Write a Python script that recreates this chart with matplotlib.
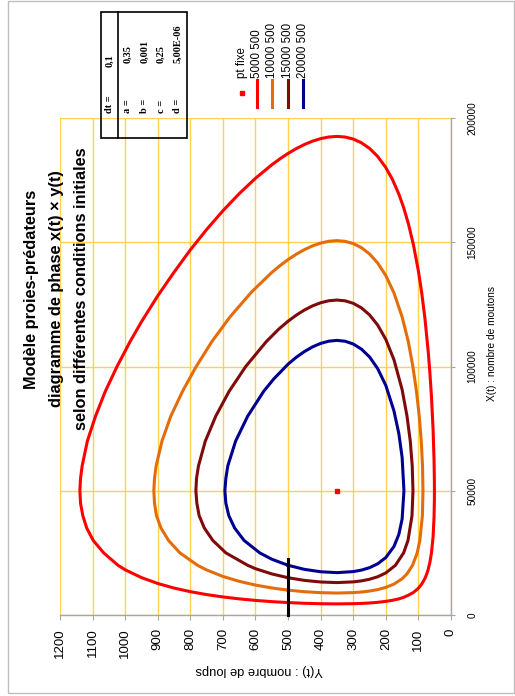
import matplotlib
matplotlib.use('Agg')
import matplotlib.pyplot as plt
from matplotlib.lines import Line2D
from matplotlib.patches import Rectangle

plt.rcParams['font.family'] = ['Liberation Sans', 'DejaVu Sans']

# X(t) = moutons (vertical axis here), Y(t) = loups (horizontal axis, reversed)
red_x = [5000, 5375, 5870, 6490, 7270, 8216, 9390, 10840, 12690, 15060, 18200, 20000, 25000, 30000, 35000,
         40000, 45000, 50000, 55000, 60000, 70000, 80000, 90000, 100000, 110000, 118000, 128450, 137950,
         146930, 155130, 162670, 169550, 175740, 181170, 183570, 185750, 187670, 189330, 190680, 191700,
         192360, 192590, 192340, 191520, 190040, 187770, 184520, 180030, 175350, 169370, 163820, 157070,
         148770, 138360, 129800, 119350, 106100, 97900, 87970, 74680, 62240, 53600, 50000, 46500, 39500,
         31480, 24970, 21050, 18330, 16310, 14710, 12420, 10775, 9110, 8020, 7137, 6490, 5920, 5485, 5100,
         4840, 4660, 4550, 4474, 4535, 4718, 5000]
red_y = [500, 550, 600, 650, 700, 750, 800, 850, 900, 950, 1000, 1022, 1066, 1098, 1118,
         1130, 1137, 1139, 1137, 1132, 1116, 1091, 1061, 1025, 985, 950, 900, 850,
         800, 750, 700, 650, 600, 550, 525, 500, 475, 450, 425, 400,
         375, 350, 325, 300, 275, 250, 225, 200, 180, 160, 145, 130,
         115, 100, 90, 80, 70, 65, 60, 55, 52, 51, 50.9, 51, 52,
         55, 60, 65, 70, 75, 80, 90, 100, 115, 130, 145, 160, 180, 200, 225,
         250, 275, 300, 350, 400, 450, 500]

orange_x = [10000, 10880, 12040, 13550, 15510, 18130, 20000, 25000, 30000, 35000, 40000, 45000, 50000, 55000,
            60000, 70000, 80000, 90000, 100000, 110000, 120000, 130000, 137850, 140570, 143020, 145180, 147020,
            148530, 149670, 150400, 150650, 150370, 149470, 147820, 145280, 141640, 136580, 129610, 119940,
            110000, 100000, 90000, 80000, 70000, 60000, 50000, 40000, 30000, 25000, 20000, 16560, 14580, 12440,
            11105, 10227, 9640, 9250, 9006, 8834, 8990, 9370, 10000]
orange_y = [500, 550, 600, 650, 700, 750, 778, 832, 867, 890, 904, 910, 912, 910,
            905, 887, 860, 824, 782, 734, 678, 612, 550, 525, 500, 475, 450,
            425, 400, 375, 350, 325, 300, 275, 250, 225, 200, 175, 150,
            131, 117, 106, 97.4, 91.3, 87.4, 86, 87.8, 95.6, 103.8, 118, 135, 150, 175,
            200, 225, 250, 275, 300, 350, 400, 450, 500]

dred_x = [15000, 16530, 18630, 20000, 25000, 30000, 35000, 40000, 45000, 50000, 55000, 60000, 70000, 80000,
          90000, 100000, 110000, 115000, 118230, 120650, 122720, 124390, 125650, 126460, 126740, 126430,
          125430, 123600, 120770, 116670, 110890, 102700, 90690, 80000, 70000, 60000, 50000, 40000, 30000,
          25000, 20000, 16935, 15390, 14385, 13730, 13325, 13040, 13280, 13930, 15000]
dred_y = [500, 550, 600, 624, 691, 731, 757, 773, 780, 783, 781, 775, 754, 722,
          681, 630, 567, 529, 500, 475, 450, 425, 400, 375, 350, 325,
          300, 275, 250, 225, 200, 175, 150, 135, 125, 119, 116.7, 119.7, 132,
          145.4, 170.6, 200, 225, 250, 275, 300, 350, 400, 450, 500]

blue_x = [20000, 22450, 25000, 30000, 35000, 40000, 45000, 50000, 55000, 60000, 70000, 80000, 90000, 95000,
          100950, 103700, 106000, 107900, 109300, 110190, 110510, 110170, 109050, 107010, 103850, 99140,
          92370, 82100, 72950, 63430, 50000, 38630, 32470, 27580, 23125, 20610, 19050, 18065, 17465, 17047,
          17400, 18367, 20000]
blue_y = [500, 550, 587, 635, 664, 682, 691, 694, 691, 685, 661, 624, 575, 544,
          500, 475, 450, 425, 400, 375, 350, 325, 300, 275, 250, 225,
          200, 175, 160, 150, 144.4, 150, 160, 175, 200, 225, 250, 275, 300, 350,
          400, 450, 500]

# fixed point and initial-condition marker
pt_x, pt_y = [50000], [350]
bar_x, bar_y = [0, 22500], [500, 500]

series = [('5000 500', red_x, red_y, '#FF0000'),
          ('10000 500', orange_x, orange_y, '#E46C0A'),
          ('15000 500', dred_x, dred_y, '#7F0A0A'),
          ('20000 500', blue_x, blue_y, '#000090')]

loups_ticks = list(range(0, 1300, 100))
moutons_ticks = [0, 50000, 100000, 150000, 200000]

params = [('dt =', '0,1'), ('a =', '0,35'), ('b =', '0,001'), ('c =', '0,25'), ('d =', '5,00E-06')]

title_lines = ['Modèle proies-prédateurs', 'diagramme de phase x(t) × y(t)',
               'selon différentes conditions initiales']

W, H = 515, 696


def fx(px):
    return px / W


def fy(py):
    return 1 - py / H


fig = plt.figure(figsize=(W / 100, H / 100), dpi=100)
ax = fig.add_axes([fx(60), fy(615), (451 - 60) / W, (615 - 118) / H])

for name, mx, ly, col in series:
    ax.plot(ly, mx, color=col, lw=2.2, solid_joinstyle='round', zorder=3)
ax.plot(pt_y, pt_x, 's', color='#FF0000', ms=3.5, zorder=4)
ax.plot(bar_y, bar_x, color='black', lw=2.2, zorder=5, clip_on=False)

ax.set_xlim(1200, 0)
ax.set_ylim(0, 200000)
ax.set_xticks(loups_ticks)
ax.set_xticklabels([str(v) for v in loups_ticks])
ax.set_yticks(moutons_ticks)
ax.set_yticklabels([str(v) for v in moutons_ticks])

ax.set_axisbelow(True)
ax.grid(True, color='#FFD24D', lw=1.0)

for s in ['left', 'top']:
    ax.spines[s].set_visible(False)
for s in ['bottom', 'right']:
    ax.spines[s].set_color('#A6A6A6')
    ax.spines[s].set_linewidth(1.0)

ax.yaxis.tick_right()
ax.tick_params(axis='x', direction='out', length=3.6, width=0.8, color='#A6A6A6',
               labelsize=9.5, labelrotation=90, pad=6)
ax.tick_params(axis='y', direction='out', length=3, width=0.8, color='#A6A6A6',
               labelsize=7.2, labelrotation=90, pad=9)
for lbl in ax.get_yticklabels():
    lbl.set_va('center')

# axis titles
fig.text(fx(259), fy(670), 'Y(t) : nombre de loups', rotation=180, ha='center', va='center', fontsize=9.3)
fig.text(fx(492), fy(344), 'X(t) : nombre de moutons', rotation=90, ha='center', va='center', fontsize=7.3)

# chart title
for i, line in enumerate(title_lines):
    fig.text(fx(32 + 25 * i), fy(289), line, rotation=90, ha='center', va='center',
             fontsize=11.8, fontweight='bold')

# legend (rotated by hand)
fig.add_artist(Line2D([fx(241.7)], [fy(93)], marker='s', color='#FF0000', ms=3.5, lw=0,
                      transform=fig.transFigure))
fig.text(fx(242), fy(78), 'pt fixe', rotation=90, rotation_mode='anchor', ha='left', va='center', fontsize=8.3)
for i, (name, mx, ly, col) in enumerate(series):
    px = 256.7 + 15.5 * i
    fig.add_artist(Line2D([fx(px), fx(px)], [fy(80), fy(107)], color=col, lw=2.2,
                          transform=fig.transFigure))
    fig.text(fx(px), fy(78), name, rotation=90, rotation_mode='anchor', ha='left', va='center', fontsize=8.3)

# parameter table
fig.add_artist(Rectangle((fx(101), fy(138)), (187 - 101) / W, (138 - 12) / H, fill=False,
                         ec='black', lw=1.2, transform=fig.transFigure))
fig.add_artist(Line2D([fx(118), fx(118)], [fy(12), fy(138)], color='black', lw=1.2,
                      transform=fig.transFigure))
for i, (lab, val) in enumerate(params):
    px = 110 if i == 0 else 128 + 16.5 * (i - 1)
    fig.text(fx(px), fy(113), lab, rotation=90, rotation_mode='anchor', ha='left', va='center',
             fontsize=7.5, fontweight='bold', family='Liberation Serif')
    fig.text(fx(px), fy(67 if i == 0 else 63), val, rotation=90, rotation_mode='anchor', ha='left',
             va='center', fontsize=7.5, fontweight='bold', family='Liberation Serif')

# outer frame
fig.add_artist(Rectangle((fx(8), fy(693)), (514 - 8) / W, (693 - 1) / H, fill=False,
                         ec='#BFBFBF', lw=1.0, transform=fig.transFigure))

fig.savefig('out.png', dpi=100)
